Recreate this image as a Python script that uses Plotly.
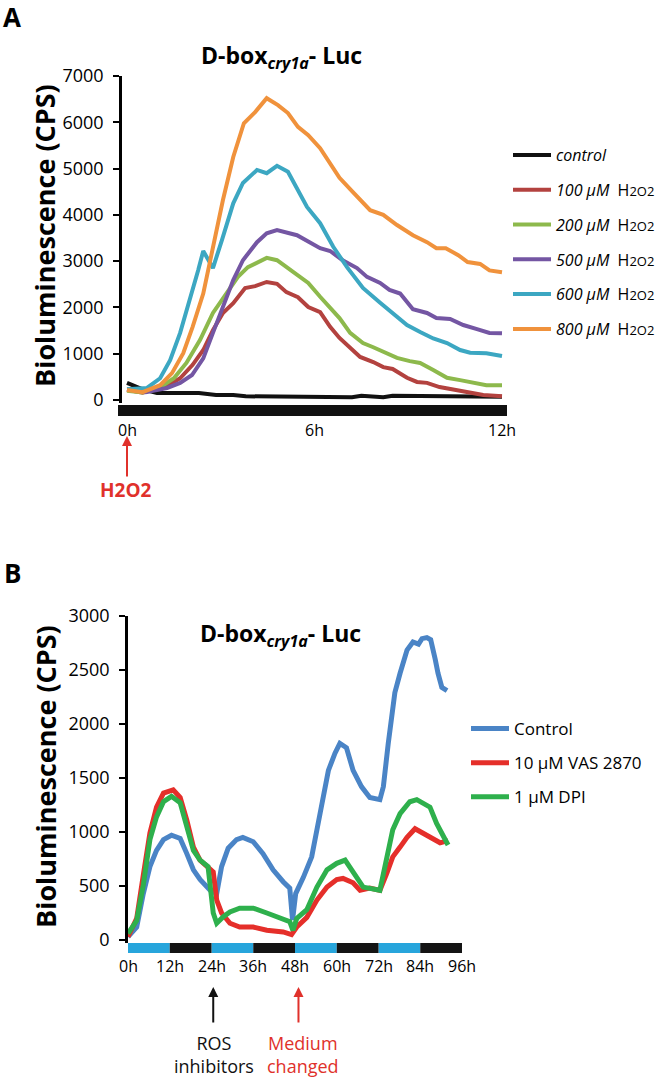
import plotly.graph_objects as go

W, H = 666, 1077
FONT = "Open Sans"

# ---------------- Panel A data (hours after H2O2, CPS) ----------------
A_CONTROL_X = [0, 0.5, 0.96, 2.3, 2.85, 3.4, 3.8, 7.0, 7.2, 7.5, 8.2, 8.5, 9.6, 9.8, 11.4, 12]
A_CONTROL_Y = [370, 230, 150, 150, 110, 110, 80, 80, 60, 90, 60, 90, 90, 70, 70, 70]

A_100_X = [0, 0.5, 1.28, 1.7, 2.1, 2.44, 2.75, 3.07, 3.4, 3.78, 4.1, 4.47, 4.8, 5.1, 5.47, 5.8,
           6.18, 6.5, 6.8, 7.14, 7.46, 7.88, 8.2, 8.5, 8.96, 9.28, 9.6, 10.0, 10.45, 10.9, 11.4, 12]
A_100_Y = [220, 160, 300, 470, 760, 1080, 1510, 1880, 2090, 2420, 2460, 2550, 2510, 2330, 2220, 2010,
           1900, 1580, 1340, 1140, 930, 820, 710, 670, 480, 390, 370, 280, 220, 160, 110, 80]

A_200_X = [0, 0.5, 1.06, 1.5, 1.9, 2.34, 2.75, 3.2, 3.55, 3.87, 4.2, 4.47, 4.8, 5.1, 5.44, 5.8,
           6.18, 6.5, 6.8, 7.14, 7.55, 7.88, 8.2, 8.64, 9.05, 9.38, 9.8, 10.24, 10.66, 11.07, 11.5, 12]
A_200_Y = [200, 160, 270, 470, 800, 1300, 1880, 2340, 2660, 2870, 2980, 3070, 3020, 2870, 2700, 2530,
           2230, 1990, 1770, 1450, 1230, 1140, 1040, 910, 840, 800, 650, 480, 430, 370, 320, 320]

A_500_X = [0, 0.6, 1.28, 1.7, 2.08, 2.44, 2.75, 3.07, 3.4, 3.71, 4.16, 4.47, 4.8, 5.44, 5.86, 6.18,
           6.5, 6.9, 7.36, 7.68, 8.1, 8.4, 8.74, 9.15, 9.6, 9.9, 10.34, 10.76, 11.2, 11.6, 12]
A_500_Y = [230, 170, 260, 370, 540, 900, 1450, 2010, 2590, 3020, 3410, 3600, 3670, 3560, 3410, 3280,
           3220, 3020, 2850, 2660, 2530, 2380, 2300, 1960, 1880, 1770, 1750, 1620, 1530, 1450, 1440]

A_600_X = [0, 0.64, 1.06, 1.38, 1.7, 2.02, 2.28, 2.44, 2.55, 2.75, 3.04, 3.4, 3.71, 4.16, 4.47, 4.8,
           5.15, 5.44, 5.76, 6.18, 6.6, 7.04, 7.55, 8.1, 8.5, 8.96, 9.38, 9.8, 10.24, 10.66, 10.98, 11.5, 12]
A_600_Y = [230, 260, 470, 860, 1450, 2160, 2810, 3220, 3090, 2850, 3460, 4250, 4690, 4970, 4900, 5060,
           4930, 4580, 4170, 3820, 3310, 2870, 2420, 2100, 1880, 1620, 1470, 1330, 1230, 1080, 1020, 1010, 950]

A_800_X = [0, 0.5, 1.06, 1.44, 1.8, 2.1, 2.44, 2.75, 3.07, 3.4, 3.74, 4.1, 4.47, 4.83, 5.15, 5.47,
           5.8, 6.18, 6.5, 6.8, 7.23, 7.78, 8.2, 8.64, 9.15, 9.6, 9.9, 10.2, 10.6, 10.9, 11.3, 11.6, 12]
A_800_Y = [216, 170, 320, 580, 1010, 1580, 2300, 3300, 4320, 5250, 5980, 6220, 6520, 6370, 6200, 5900,
           5720, 5440, 5120, 4800, 4490, 4100, 4000, 3780, 3560, 3410, 3280, 3280, 3130, 2980, 2940, 2800, 2760]

A_TICKS = [0, 6, 12]
A_TICK_LABELS = ["0h", "6h", "12h"]
A_YTICKS = [0, 1000, 2000, 3000, 4000, 5000, 6000, 7000]

# ---------------- Panel B data (hours, CPS) ----------------
B_CTRL_X = [0, 2.5, 4.4, 6.3, 8.2, 10.2, 12.5, 15, 16.9, 18.8, 20.7, 23.6, 25.5, 26.9, 28.8, 31.2, 33,
            36, 38.8, 41.7, 44.6, 46.5, 47.3, 48.2, 50.4, 52.8, 55.2, 57.6, 59.5, 60.9, 62.8, 64.7, 67.1,
            69.5, 72.4, 73.4, 74.8, 76.7, 78.2, 80.2, 81.9, 83.5, 84.5, 85.9, 87.0, 87.6, 88.3, 89.1,
            90.2, 91.7]
B_CTRL_Y = [30, 120, 430, 680, 830, 930, 970, 940, 800, 650, 560, 460, 430, 680, 850, 930, 950,
            910, 800, 650, 540, 480, 185, 430, 580, 770, 1170, 1570, 1730, 1820, 1780, 1570, 1420,
            1320, 1300, 1420, 1820, 2290, 2470, 2685, 2760, 2740, 2790, 2800, 2780, 2710, 2600, 2470,
            2340, 2310]

B_VAS_X = [0, 2.5, 4.4, 6.3, 8.2, 10.2, 13, 15, 16.9, 18.8, 20.7, 22.6, 24.5, 25.5, 26.9, 29.3, 32.1,
           36, 39.9, 44.6, 47, 48.5, 51.4, 54.3, 57.2, 60, 61.8, 64.7, 66.7, 69.5, 72.4, 74.4, 76.1,
           78.2, 80.2, 82.5, 84.8, 87.6, 89.7, 92]
B_VAS_Y = [30, 200, 600, 990, 1230, 1360, 1390, 1320, 1110, 860, 740, 680, 630, 370, 250, 155, 120,
           120, 90, 75, 50, 120, 210, 370, 490, 560, 570, 530, 460, 480, 460, 620, 770,
           860, 950, 1030, 990, 940, 900, 920]

B_DPI_X = [0, 2.5, 4.4, 6.3, 8.2, 10.2, 12.5, 15, 16.9, 18.8, 20.7, 23, 24.5, 25.5, 27.4, 29.3, 32.1,
           36, 39.9, 43.7, 46.5, 47.4, 48.5, 51.4, 54.3, 57.2, 60, 62.4, 64.7, 67.6, 72.4, 74.4, 76.1,
           78.2, 81, 83, 84.8, 86.8, 88.7, 90.6, 92]
B_DPI_Y = [60, 180, 510, 930, 1140, 1280, 1330, 1270, 1050, 830, 740, 680, 250, 155, 215, 260, 295,
           295, 250, 200, 170, 90, 200, 280, 490, 650, 710, 740, 620, 490, 460, 740, 1020,
           1170, 1280, 1300, 1270, 1230, 1080, 950, 880]

B_TICKS = [0, 12, 24, 36, 48, 60, 72, 84, 96]
B_TICK_LABELS = ["0h", "12h", "24h", "36h", "48h", "60h", "72h", "84h", "96h"]
B_YTICKS = [0, 500, 1000, 1500, 2000, 2500, 3000]
B_LIGHT_PERIODS = [(0, 12), (24, 36), (48, 60), (72, 84)]
B_DARK_PERIODS = [(12, 24), (36, 48), (60, 72), (84, 96)]


def px(x):
    return x / W


def py(y):
    return 1 - y / H


fig = go.Figure()

NB = "\u00a0"
h2o2 = ("<span style='font-style:normal'>" + NB + NB + "H<span style='font-size:13px'>2O2</span></span>")
a_series = [
    ("<i>control</i>", A_CONTROL_X, A_CONTROL_Y, "#111111"),
    ("<i>100 µM</i>" + h2o2, A_100_X, A_100_Y, "#b3423f"),
    ("<i>200 µM</i>" + h2o2, A_200_X, A_200_Y, "#8db94c"),
    ("<i>500 µM</i>" + h2o2, A_500_X, A_500_Y, "#7456a3"),
    ("<i>600 µM</i>" + h2o2, A_600_X, A_600_Y, "#3ca7c2"),
    ("<i>800 µM</i>" + h2o2, A_800_X, A_800_Y, "#f0923c"),
]
for i, (name, xs, ys, col) in enumerate(a_series):
    fig.add_trace(go.Scatter(x=xs, y=ys, mode="lines", name=name,
                             line=dict(color=col, width=4), xaxis="x", yaxis="y",
                             legend="legend", legendgroup="a%d" % i))

b_series = [
    ("Control", B_CTRL_X, B_CTRL_Y, "#4a84c6"),
    ("10 µM VAS 2870", B_VAS_X, B_VAS_Y, "#e52f2a"),
    ("1 µM DPI", B_DPI_X, B_DPI_Y, "#2eb04c"),
]
for i, (name, xs, ys, col) in enumerate(b_series):
    fig.add_trace(go.Scatter(x=xs, y=ys, mode="lines", name=name,
                             line=dict(color=col, width=5), xaxis="x2", yaxis="y2",
                             legend="legend2", legendgroup="b%d" % i))

# Axes
a_scale = (502 - 127) / 12.0
axis_common = dict(showgrid=False, zeroline=False, fixedrange=True, automargin=False)
ytick_common = dict(showline=True, linecolor="black", linewidth=2.5, ticks="outside", ticklen=6,
                    tickwidth=2, tickcolor="black", ticklabelstandoff=6,
                    tickfont=dict(family=FONT, size=18, color="black"))
fig.update_layout(
    xaxis=dict(domain=[px(122), px(507)], range=[(122 - 127) / a_scale, (507 - 127) / a_scale],
               showline=False, showticklabels=False, ticks="", anchor="y", **axis_common),
    yaxis=dict(domain=[py(400 + 60 * 324 / 7000), py(76)], range=[-60, 7000], anchor="x",
               tickvals=A_YTICKS, **ytick_common, **axis_common),
    xaxis2=dict(domain=[px(128), px(462)], range=[0, 96], showline=False,
                showticklabels=False, ticks="", anchor="y2", **axis_common),
    yaxis2=dict(domain=[py(940 + 30 * 324 / 3000), py(616)], range=[-30, 3000], anchor="x2",
                tickvals=B_YTICKS, **ytick_common, **axis_common),
)

shapes = []
# Panel A light/dark bar (all dark)
shapes.append(dict(type="rect", xref="paper", yref="paper", x0=px(118), x1=px(507),
                   y0=py(416), y1=py(405), fillcolor="#111111", line=dict(width=0)))
# Panel B bar
for (s, e) in B_LIGHT_PERIODS:
    shapes.append(dict(type="rect", xref="x2", yref="paper", x0=s, x1=e, y0=py(953), y1=py(943),
                       fillcolor="#27a5dc", line=dict(width=0)))
for (s, e) in B_DARK_PERIODS:
    shapes.append(dict(type="rect", xref="x2", yref="paper", x0=s, x1=e, y0=py(953), y1=py(943),
                       fillcolor="#141414", line=dict(width=0)))
fig.update_layout(shapes=shapes)


def note(text, x, y, size, color="black", xref="paper", angle=0, align="center"):
    return dict(text=text, x=x, y=py(y), xref=xref, yref="paper", showarrow=False,
                xanchor="center", yanchor="middle", textangle=angle, align=align,
                font=dict(family=FONT, size=size, color=color))


ann = []
ann.append(note("<b>A</b>", px(12), 17, 26))
ann.append(note("<b>B</b>", px(12), 573, 26))
title = "<b>D-box<sub><i>cry1a</i></sub>- Luc</b>"
ann.append(note(title, px(281), 57, 23))
ann.append(note(title, px(280), 634, 23))
ann.append(note("<b>Bioluminescence (CPS)</b>", px(45), 236, 27, angle=-90))
ann.append(note("<b>Bioluminescence (CPS)</b>", px(45), 777, 27, angle=-90))
for v, t in zip(A_TICKS, A_TICK_LABELS):
    ann.append(note(t, v, 430, 16, xref="x"))
for v, t in zip(B_TICKS, B_TICK_LABELS):
    ann.append(note(t, v, 966, 16, xref="x2"))
# Arrows and notes
ann.append(dict(text="", x=0, y=py(436), ax=0, ay=42, xref="x", yref="paper", axref="pixel",
                ayref="pixel", showarrow=True, arrowhead=2, arrowsize=1, arrowwidth=2,
                arrowcolor="#e0312b"))
ann.append(note("<b>H2O2</b>", px(126), 490, 19, color="#e0312b"))
ann.append(dict(text="", x=24.5, y=py(987), ax=0, ay=37, xref="x2", yref="paper", axref="pixel",
                ayref="pixel", showarrow=True, arrowhead=2, arrowsize=1, arrowwidth=2,
                arrowcolor="#111111"))
ann.append(dict(text="", x=49, y=py(987), ax=0, ay=37, xref="x2", yref="paper", axref="pixel",
                ayref="pixel", showarrow=True, arrowhead=2, arrowsize=1, arrowwidth=2,
                arrowcolor="#e0312b"))
ann.append(note("ROS<br>inhibitors", px(214), 1054, 18, color="#111111"))
ann.append(note("Medium<br>changed", px(303), 1054, 18, color="#e0312b"))
fig.update_layout(annotations=ann)

fig.update_layout(
    width=W, height=H, margin=dict(l=0, r=0, t=0, b=0, autoexpand=False),
    paper_bgcolor="white", plot_bgcolor="white",
    font=dict(family=FONT, color="black"),
    showlegend=True,
    legend=dict(x=px(508), y=py(138), xanchor="left", yanchor="top", bgcolor="rgba(0,0,0,0)",
                font=dict(family=FONT, size=16, color="black"), tracegroupgap=11,
                itemwidth=38, traceorder="grouped"),
    legend2=dict(x=px(466), y=py(711), xanchor="left", yanchor="top", bgcolor="rgba(0,0,0,0)",
                 font=dict(family=FONT, size=17, color="black"), tracegroupgap=9,
                 itemwidth=38, traceorder="grouped"),
)

fig.write_html("out.html", config={"displayModeBar": False},
               post_script="document.body.style.margin='0px';")
